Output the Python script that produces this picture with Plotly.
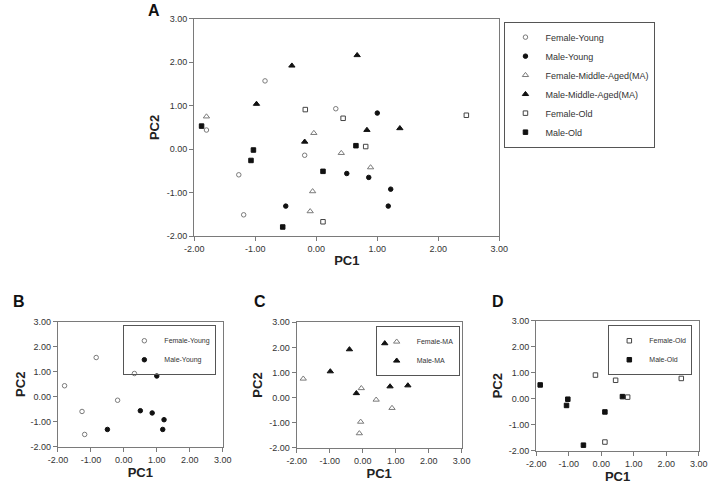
import plotly.graph_objects as go

# ---- data (PC1, PC2 scores) ----
fy_x = [-0.84, -1.80, 0.32, -0.19, -1.27, -1.19]
fy_y = [1.57, 0.44, 0.93, -0.14, -0.59, -1.51]
my_x = [1.00, 0.50, 0.86, 1.22, 1.18, -0.50]
my_y = [0.83, -0.56, -0.65, -0.92, -1.31, -1.31]
fma_x = [-1.80, -0.04, 0.41, 0.89, -0.06, -0.10]
fma_y = [0.75, 0.37, -0.09, -0.42, -0.97, -1.43]
mma_x = [-0.40, 0.67, -0.98, -0.19, 0.83, 1.37]
mma_y = [1.92, 2.16, 1.04, 0.17, 0.44, 0.48]
fo_x = [-0.18, 0.44, 0.81, 0.11, 2.46]
fo_y = [0.91, 0.71, 0.06, -1.67, 0.78]
mo_x = [-1.88, -1.03, -1.07, 0.11, 0.65, -0.55]
mo_y = [0.53, -0.02, -0.26, -0.51, 0.08, -1.79]

tick_vals = [-2, -1, 0, 1, 2, 3]
tick_text = ["-2.00", "-1.00", "0.00", "1.00", "2.00", "3.00"]

W, H = 713, 484
FONT = "Arial, Liberation Sans, sans-serif"
GRAY = "#7a7a7a"
BLACK = "#111111"

def px_dom_x(a, b):
    return [a / W, b / W]

def px_dom_y(top, bottom):
    return [1 - bottom / H, 1 - top / H]

fig = go.Figure()

def add(x, y, name, symbol, color, fill, xa, ya, leg, size=4.5):
    fig.add_trace(go.Scatter(
        x=x, y=y, mode="markers", name=name,
        marker=dict(symbol=symbol, size=size, color=fill,
                    line=dict(color=color, width=1)),
        xaxis=xa, yaxis=ya, legend=leg))

# Panel A
add(fy_x, fy_y, "Female-Young", "circle", GRAY, "white", "x", "y", "legend")
add(my_x, my_y, "Male-Young", "circle", BLACK, BLACK, "x", "y", "legend")
add(fma_x, fma_y, "Female-Middle-Aged(MA)", "triangle-up", GRAY, "white", "x", "y", "legend", 5.5)
add(mma_x, mma_y, "Male-Middle-Aged(MA)", "triangle-up", BLACK, BLACK, "x", "y", "legend", 5.5)
add(fo_x, fo_y, "Female-Old", "square", "#444444", "white", "x", "y", "legend")
add(mo_x, mo_y, "Male-Old", "square", BLACK, BLACK, "x", "y", "legend")
# Panel B
add(fy_x, fy_y, "Female-Young", "circle", GRAY, "white", "x2", "y2", "legend2")
add(my_x, my_y, "Male-Young", "circle", BLACK, BLACK, "x2", "y2", "legend2")
# Panel C
add(fma_x, fma_y, "Female-MA", "triangle-up", GRAY, "white", "x3", "y3", "legend3", 5.5)
add(mma_x, mma_y, "Male-MA", "triangle-up", BLACK, BLACK, "x3", "y3", "legend3", 5.5)
# Panel D
add(fo_x, fo_y, "Female-Old", "square", "#444444", "white", "x4", "y4", "legend4")
add(mo_x, mo_y, "Male-Old", "square", BLACK, BLACK, "x4", "y4", "legend4")

def axis(domain, anchor, title, standoff, tsize=9):
    return dict(domain=domain, anchor=anchor, range=[-2, 3],
                tickvals=tick_vals, ticktext=tick_text,
                showgrid=False, zeroline=False,
                showline=True, mirror=True, linecolor=GRAY, linewidth=1.3,
                ticks="outside", ticklen=4, tickcolor=GRAY,
                tickfont=dict(family=FONT, size=tsize, color="#333333"),
                title=dict(text=title, standoff=standoff,
                           font=dict(family=FONT, size=13, color="#222222",
                                     weight="bold")))

layout = dict(
    width=W, height=H, margin=dict(l=0, r=0, t=0, b=0),
    paper_bgcolor="white", plot_bgcolor="white",
    font=dict(family=FONT),
    xaxis=axis(px_dom_x(189.3, 502.7), "y", "PC1", 2),
    yaxis=axis(px_dom_y(14, 236), "x", "PC2", 4),
    xaxis2=axis(px_dom_x(49.3, 218.5), "y2", "PC1", 1),
    yaxis2=axis(px_dom_y(323.5, 451), "x2", "PC2", 1),
    xaxis3=axis(px_dom_x(294.5, 464), "y3", "PC1", 1),
    yaxis3=axis(px_dom_y(324, 452), "x3", "PC2", 3),
    xaxis4=axis(px_dom_x(540.7, 707.7), "y4", "PC1", 1),
    yaxis4=axis(px_dom_y(322.5, 455), "x4", "PC2", 3),
    showlegend=True,
)

def legend(xpx, ypx, size, anchor, bg):
    return dict(x=xpx / W, y=1 - ypx / H, xanchor=anchor, yanchor="top",
                bgcolor=bg, bordercolor="#555555", borderwidth=1,
                font=dict(family=FONT, size=size, color="#333333"),
                itemwidth=30, tracegroupgap=0)

CLEAR = "rgba(255,255,255,0)"
layout["legend"] = legend(508, 17, 9, "left", "white")
layout["legend2"] = legend(212, 327, 7, "right", CLEAR)
layout["legend3"] = legend(462, 328, 7, "right", CLEAR)
layout["legend4"] = legend(701, 327, 7, "right", CLEAR)

fig.update_layout(**layout)

for txt, xp, yp in [("A", 148, 6), ("B", 9, 303), ("C", 257, 303), ("D", 501, 303)]:
    fig.add_annotation(text=txt, x=xp / W, y=1 - yp / H, xref="paper", yref="paper",
                       showarrow=False, xanchor="center", yanchor="middle",
                       font=dict(family=FONT, size=16, color="#111111", weight="bold"))

fig.write_html("out.html")
